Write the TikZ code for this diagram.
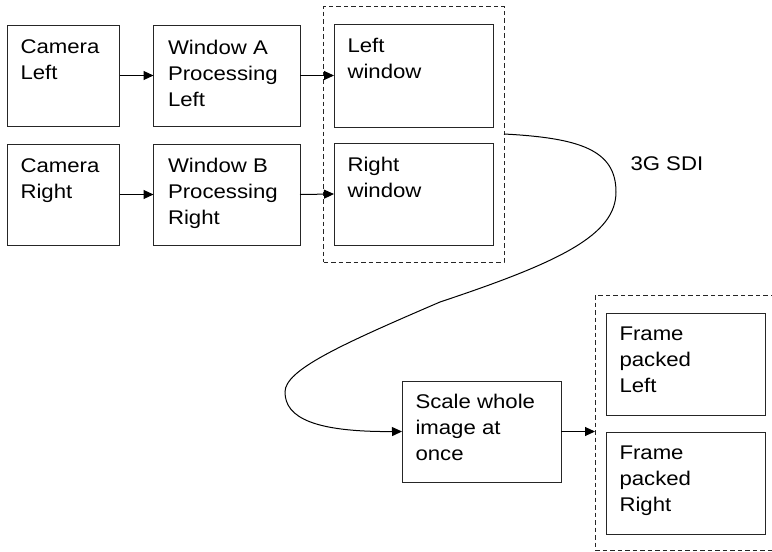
\documentclass[tikz,border=0pt]{standalone}
\usepackage{fontspec}
\setmainfont{Liberation Sans}[FakeStretch=1.12]
\usetikzlibrary{arrows.meta,calc}
\tikzset{
  box/.style={draw=black!85, line width=1pt, rectangle, inner sep=0pt, outer sep=0pt, anchor=north west},
  dbox/.style={draw=black!85, line width=1pt, dash pattern=on 4.5pt off 3pt, rectangle, inner sep=0pt, outer sep=0pt, anchor=north west},
  txt/.style={anchor=north west, inner sep=0pt, outer sep=0pt, align=left, font=\fontsize{19.8}{26}\selectfont},
  arr/.style={line width=1pt, -{Triangle[length=10pt,width=9pt]}},
  cable/.style={line width=1pt, -{Triangle[length=10pt,width=9pt]}},
}
\begin{document}
\begin{tikzpicture}[x=1pt,y=-1pt]
\useasboundingbox (0,0) rectangle (772,552);
% row 1
\node[box, minimum width=112pt, minimum height=101pt] (cl) at (7.5,25) {};
\node[box, minimum width=146.5pt, minimum height=101pt] (wa) at (153.5,25) {};
\node[box, minimum width=159pt, minimum height=103pt] (lw) at (334,24) {};
% row 2
\node[box, minimum width=112pt, minimum height=101pt] (cr) at (7.5,144) {};
\node[box, minimum width=146.5pt, minimum height=101pt] (wb) at (153.5,144) {};
\node[box, minimum width=159pt, minimum height=102pt] (rw) at (334,143) {};
% dashed group left
\node[dbox, minimum width=180.5pt, minimum height=256pt] (dl) at (323.5,6) {};
% scale box
\node[box, minimum width=159pt, minimum height=101pt] (sc) at (402,381) {};
% dashed group right
\node[dbox, minimum width=180pt, minimum height=255pt] (dr) at (595,295) {};
\node[box, minimum width=159pt, minimum height=102pt] (fl) at (606,313) {};
\node[box, minimum width=159pt, minimum height=102pt] (fr) at (606,432) {};
% texts
\node[txt] (tcl) at ($(cl.north west)+(13,15)$) {Camera\\Left};
\node[txt] (twa) at ($(wa.north west)+(14.5,15)$) {Window A\\Processing\\Left};
\node[txt] (tlw) at ($(lw.north west)+(13.5,14)$) {Left\\window};
\node[txt] (tcr) at ($(cr.north west)+(13,14.5)$) {Camera\\Right};
\node[txt] (twb) at ($(wb.north west)+(14.5,14.5)$) {Window B\\Processing\\Right};
\node[txt] (trw) at ($(rw.north west)+(13.5,14)$) {Right\\window};
\node[txt] (tsc) at ($(sc.north west)+(13.5,13.5)$) {Scale whole\\image at\\once};
\node[txt] (tfl) at ($(fl.north west)+(13.5,14)$) {Frame\\packed\\Left};
\node[txt] (tfr) at ($(fr.north west)+(13.5,14)$) {Frame\\packed\\Right};
\node[txt] (sdi) at (630.5,157) {3G SDI};
% connectors
\draw[arr] (cl.east) -- (wa.west);
\draw[arr] (wa.east) -- (lw.west);
\draw[arr] (cr.east) -- (wb.west);
\draw[arr] (wb.east) -- (rw.west);
\draw[cable] (dl.east) .. controls (580,138) and (616,150) .. (616,192)
  .. controls (616,235) and (560,262) .. (440,302)
  .. controls (340,345) and (285,370) .. (285,392)
  .. controls (285,418) and (315,432) .. (sc.west);
\draw[arr] (sc.east) -- (sc.east -| dr.west);
\end{tikzpicture}
\end{document}
